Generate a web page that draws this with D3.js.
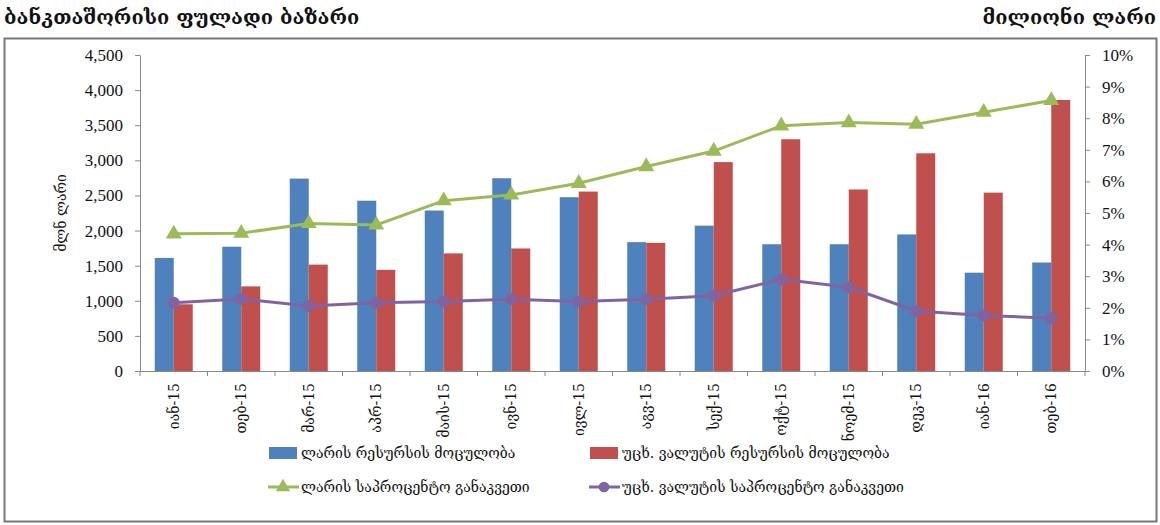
<!DOCTYPE html>
<html>
<head>
<meta charset="utf-8">
<script src="https://cdn.jsdelivr.net/npm/d3@7"></script>
<style>
  body { margin: 0; background: #fff; }
  svg { display: block; }
</style>
</head>
<body>
<div id="chart"></div>
<script>
// months (Jan-15 .. Feb-16)
var months = ["იან-15", "თებ-15", "მარ-15", "აპრ-15", "მაის-15", "ივნ-15", "ივლ-15",
              "აგვ-15", "სექ-15", "ოქტ-15", "ნოემ-15", "დეკ-15", "იან-16", "თებ-16"];
// volumes, mln GEL
var gelVolume = [1610, 1770, 2740, 2425, 2285, 2745, 2475, 1835, 2070, 1805, 1805, 1945, 1400, 1545];
var fxVolume  = [950, 1205, 1515, 1440, 1675, 1745, 2555, 1825, 2975, 3300, 2585, 3100, 2540, 3860];
// rates, %
var gelRate = [4.34, 4.36, 4.67, 4.62, 5.39, 5.57, 5.94, 6.47, 6.96, 7.76, 7.86, 7.81, 8.19, 8.56];
var fxRate  = [2.16, 2.28, 2.06, 2.16, 2.20, 2.27, 2.20, 2.27, 2.38, 2.90, 2.65, 1.90, 1.76, 1.67];

var leftTicks = [0, 500, 1000, 1500, 2000, 2500, 3000, 3500, 4000, 4500];
var rightTicks = [0, 1, 2, 3, 4, 5, 6, 7, 8, 9, 10];

var legendNames = ["ლარის რესურსის მოცულობა", "უცხ. ვალუტის რესურსის მოცულობა",
                   "ლარის საპროცენტო განაკვეთი", "უცხ. ვალუტის საპროცენტო განაკვეთი"];

var W = 1160, H = 525;
var blue = "#4f81bd", red = "#c0504d", green = "#9bbb59", purple = "#8064a2";
var serif = "'Liberation Serif', 'DejaVu Serif', serif";
var geo = "'DejaVu Serif', 'DejaVu Sans', serif";

var svg = d3.select("#chart").append("svg")
  .attr("width", W).attr("height", H);

// header
svg.append("text").attr("x", 4).attr("y", 24)
  .style("font-family", geo).style("font-size", "20px").style("font-weight", "bold")
  .attr("fill", "#111").text("ბანკთაშორისი ფულადი ბაზარი");
svg.append("text").attr("x", 1156).attr("y", 24).attr("text-anchor", "end")
  .style("font-family", geo).style("font-size", "20px").style("font-weight", "bold")
  .attr("fill", "#111").text("მილიონი ლარი");

// frame
svg.append("rect").attr("x", 4.5).attr("y", 38.5).attr("width", 1152).attr("height", 483)
  .attr("fill", "none").attr("stroke", "#777").attr("stroke-width", 2);

var x0 = 140, x1 = 1085, yTop = 55, yBot = 371;

var x = d3.scaleBand().domain(months).range([x0, x1]);
var xs = d3.scaleBand().domain(["gel", "fx"]).range([x.bandwidth() / 2 - 19, x.bandwidth() / 2 + 19]);
var yL = d3.scaleLinear().domain([0, 4500]).range([yBot, yTop]);
var yR = d3.scaleLinear().domain([0, 10]).range([yBot, yTop]);

// axes
var axL = svg.append("g").attr("transform", "translate(" + x0 + ",0)")
  .call(d3.axisLeft(yL).tickValues(leftTicks).tickSize(5).tickSizeOuter(0).tickFormat(d3.format(",")));
var axR = svg.append("g").attr("transform", "translate(" + x1 + ",0)")
  .call(d3.axisRight(yR).tickValues(rightTicks).tickSize(5).tickSizeOuter(0).tickFormat(function(d) { return d + "%"; }));
[axL, axR].forEach(function(a) {
  a.select(".domain").attr("stroke", "#888");
  a.selectAll(".tick line").attr("stroke", "#888");
  a.selectAll(".tick text").style("font-family", serif).style("font-size", "17px").attr("fill", "#111");
});
axL.selectAll(".tick text").attr("x", -17);
axR.selectAll(".tick text").attr("x", 17);

var axB = svg.append("g").attr("transform", "translate(0," + yBot + ")")
  .call(d3.axisBottom(x).tickSize(0));
axB.select(".domain").attr("stroke", "#888");
axB.selectAll(".tick text")
  .style("font-family", geo).style("font-size", "14px").attr("fill", "#111")
  .attr("text-anchor", "end").attr("transform", "rotate(-90)")
  .attr("x", -12).attr("y", 0).attr("dy", "0.35em");
// separator ticks between categories
axB.selectAll(".sep").data(months.concat([""])).enter().append("line")
  .attr("class", "sep")
  .attr("x1", function(d, i) { return x0 + i * x.step(); })
  .attr("x2", function(d, i) { return x0 + i * x.step(); })
  .attr("y1", 0).attr("y2", 5).attr("stroke", "#888");

// y axis title
svg.append("text").attr("transform", "translate(66,213) rotate(-90)")
  .attr("text-anchor", "middle")
  .style("font-family", geo).style("font-size", "14px").attr("fill", "#111")
  .text("მლნ ლარი");

// bars
var g = svg.append("g");
g.selectAll(".bg").data(gelVolume).enter().append("rect")
  .attr("x", function(d, i) { return x(months[i]) + xs("gel"); })
  .attr("y", function(d) { return yL(d); })
  .attr("width", xs.bandwidth())
  .attr("height", function(d) { return yBot - yL(d); })
  .attr("fill", blue);
g.selectAll(".br").data(fxVolume).enter().append("rect")
  .attr("x", function(d, i) { return x(months[i]) + xs("fx"); })
  .attr("y", function(d) { return yL(d); })
  .attr("width", xs.bandwidth())
  .attr("height", function(d) { return yBot - yL(d); })
  .attr("fill", red);

// lines
var cx = function(d, i) { return x(months[i]) + x.bandwidth() / 2; };
var line = d3.line().x(cx).y(function(d) { return yR(d); });

g.append("path").datum(gelRate).attr("d", line)
  .attr("fill", "none").attr("stroke", green).attr("stroke-width", 3);
g.selectAll(".tri").data(gelRate).enter().append("path")
  .attr("d", d3.symbol().type(d3.symbolTriangle).size(110))
  .attr("transform", function(d, i) { return "translate(" + cx(d, i) + "," + yR(d) + ")"; })
  .attr("fill", green);

g.append("path").datum(fxRate).attr("d", line)
  .attr("fill", "none").attr("stroke", purple).attr("stroke-width", 3);
g.selectAll(".dot").data(fxRate).enter().append("circle")
  .attr("cx", cx).attr("cy", function(d) { return yR(d); })
  .attr("r", 6).attr("fill", purple);

// legend
var lg = svg.append("g").style("font-family", geo).style("font-size", "14px");
var lx = [269, 590], ly = [453, 487];
[0, 1].forEach(function(i) {
  lg.append("rect").attr("x", lx[i]).attr("y", ly[0] - 6).attr("width", 28).attr("height", 12)
    .attr("fill", i === 0 ? blue : red);
  lg.append("text").attr("x", lx[i] + 32).attr("y", ly[0]).attr("dy", "0.35em")
    .attr("fill", "#111").text(legendNames[i]);
});
[0, 1].forEach(function(i) {
  var c = i === 0 ? green : purple;
  lg.append("line").attr("x1", lx[i] - 1).attr("x2", lx[i] + 30).attr("y1", ly[1]).attr("y2", ly[1])
    .attr("stroke", c).attr("stroke-width", 3);
  lg.append("path")
    .attr("d", d3.symbol().type(i === 0 ? d3.symbolTriangle : d3.symbolCircle).size(90))
    .attr("transform", "translate(" + (lx[i] + 14) + "," + ly[1] + ")").attr("fill", c);
  lg.append("text").attr("x", lx[i] + 32).attr("y", ly[1]).attr("dy", "0.35em")
    .attr("fill", "#111").text(legendNames[i + 2]);
});
</script>
</body>
</html>
